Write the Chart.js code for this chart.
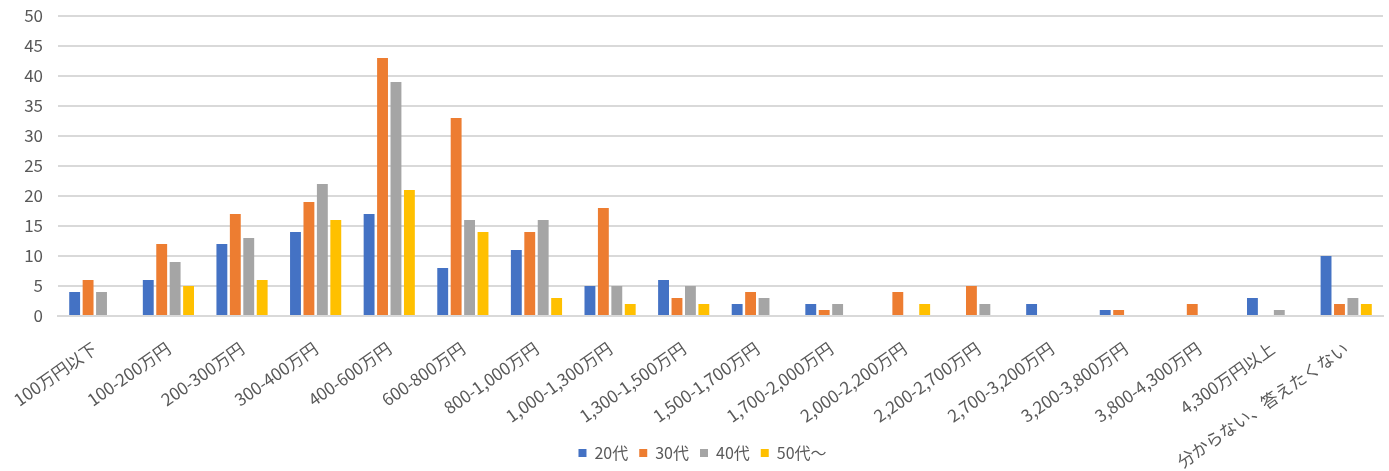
<!DOCTYPE html>
<html>
<head>
<meta charset="utf-8">
<script src="https://cdn.jsdelivr.net/npm/chart.js@4"></script>
<style>
  html, body { margin: 0; padding: 0; background: #fff; }
  #wrap { width: 1389px; height: 471px; position: relative; }
</style>
</head>
<body>
<div id="wrap"><canvas id="incomeChart"></canvas></div>
<script>
var categories = [
  "100万円以下", "100-200万円", "200-300万円", "300-400万円", "400-600万円",
  "600-800万円", "800-1,000万円", "1,000-1,300万円", "1,300-1,500万円",
  "1,500-1,700万円", "1,700-2,000万円", "2,000-2,200万円", "2,200-2,700万円",
  "2,700-3,200万円", "3,200-3,800万円", "3,800-4,300万円", "4,300万円以上",
  "分からない、答えたくない"
];
var seriesNames = ["20代", "30代", "40代", "50代～"];
var age20 = [4, 6, 12, 14, 17, 8, 11, 5, 6, 2, 2, 0, 0, 2, 1, 0, 3, 10];
var age30 = [6, 12, 17, 19, 43, 33, 14, 18, 3, 4, 1, 4, 5, 0, 1, 2, 0, 2];
var age40 = [4, 9, 13, 22, 39, 16, 16, 5, 5, 3, 2, 0, 2, 0, 0, 0, 1, 3];
var age50 = [0, 5, 6, 16, 21, 14, 3, 2, 2, 0, 0, 2, 0, 0, 0, 0, 0, 2];
var colors = ["#4472C4", "#ED7D31", "#A5A5A5", "#FFC000"];

document.addEventListener("DOMContentLoaded", function () {
  var fontFamily = "'Noto Sans CJK JP', 'Noto Sans', sans-serif";
  var textColor = "#595959";
  var values = [age20, age30, age40, age50];

  var datasets = seriesNames.map(function (name, i) {
    return {
      label: name,
      data: values[i],
      backgroundColor: colors[i],
      borderWidth: 0,
      categoryPercentage: 0.73,
      barPercentage: 0.81
    };
  });

  var ctx = document.getElementById("incomeChart").getContext("2d");
  new Chart(ctx, {
    type: "bar",
    data: { labels: categories, datasets: datasets },
    options: {
      responsive: true,
      maintainAspectRatio: false,
      animation: false,
      layout: { padding: { top: 0, right: 6, left: 22, bottom: 0 } },
      plugins: {
        tooltip: { enabled: false },
        legend: {
          position: "bottom",
          labels: {
            color: textColor,
            font: { family: fontFamily, size: 16 },
            boxWidth: 8,
            boxHeight: 8,
            padding: 11
          }
        }
      },
      scales: {
        x: {
          grid: { display: false, drawTicks: false },
          border: { color: "#D9D9D9", width: 2 },
          ticks: {
            color: textColor,
            font: { family: fontFamily, size: 17 },
            maxRotation: 35,
            minRotation: 35,
            autoSkip: false,
            padding: 22
          },
          afterFit: function (scale) {
            scale.height = 118;
            scale.paddingLeft = 0;
            scale.paddingRight = 0;
            scale.paddingTop = 0;
            scale.paddingBottom = 0;
            // let long rotated labels run past the axis box, as in the original
            scale._computeLabelArea = function () { return undefined; };
          }
        },
        y: {
          min: 0,
          max: 50,
          grid: { color: "#D9D9D9", lineWidth: 2, drawTicks: false },
          border: { display: false },
          ticks: {
            stepSize: 5,
            color: textColor,
            font: { family: fontFamily, size: 17 },
            padding: 15
          },
          afterFit: function (scale) {
            scale.width = 36;
            scale.paddingTop = 16;
            scale.paddingBottom = 0;
          }
        }
      }
    }
  });
});
</script>
</body>
</html>
